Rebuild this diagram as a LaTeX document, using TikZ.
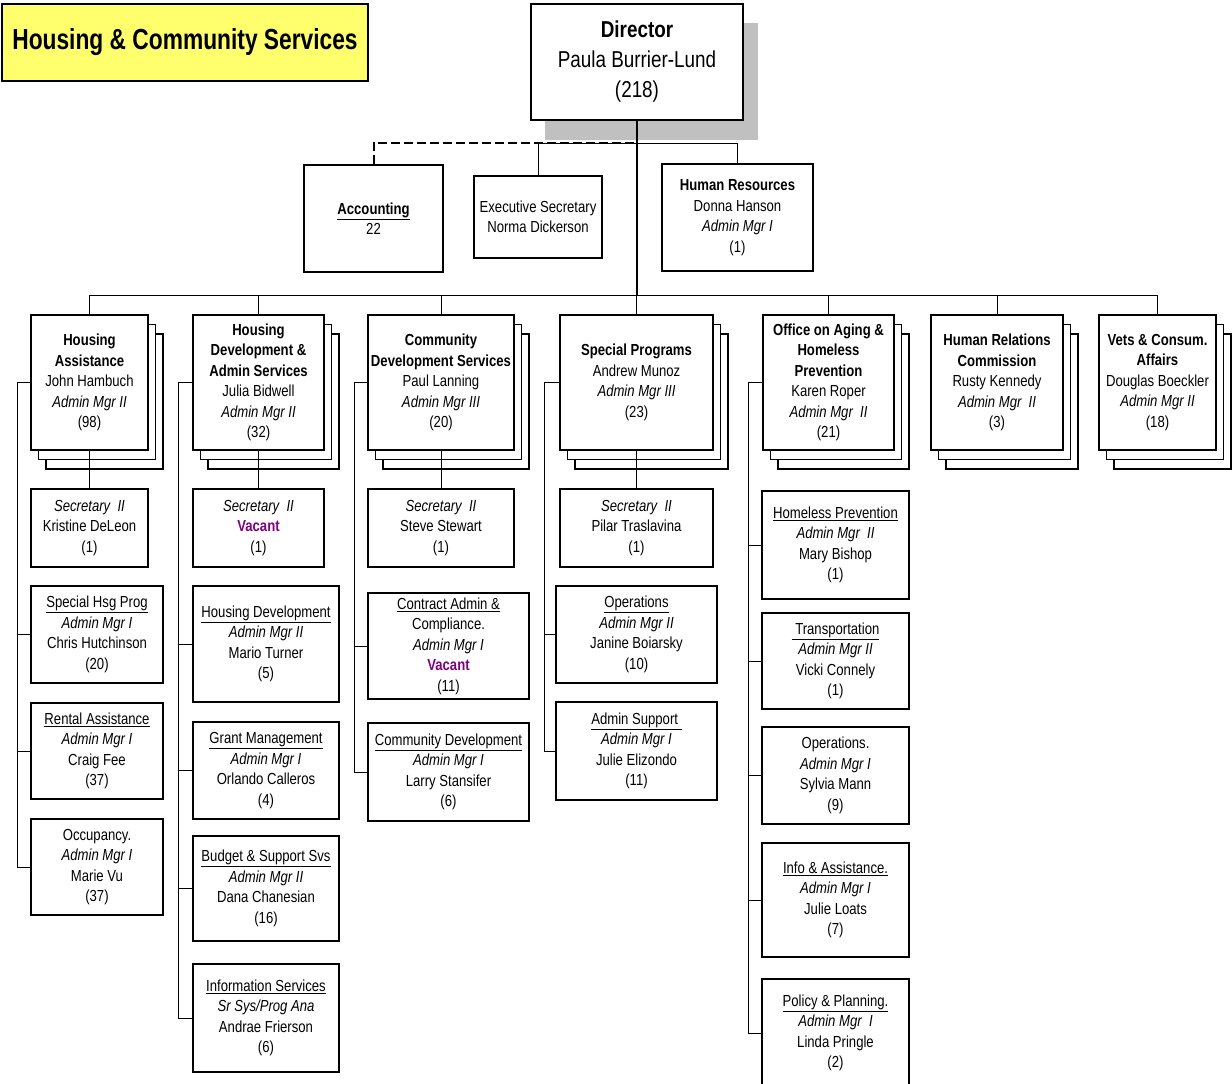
\documentclass[tikz,border=0pt]{standalone}
\usepackage{fontspec}
\setmainfont[FakeStretch=0.82]{Liberation Sans}
\newfontfamily\titlefont[FakeStretch=0.785]{Liberation Sans}
\definecolor{vac}{RGB}{128,0,128}
\definecolor{ttl}{RGB}{255,255,110}
\definecolor{shd}{RGB}{192,192,192}
\newcommand{\bodyfont}{\fontsize{16}{20.5}\selectfont}
\newcommand{\vacant}{\textcolor{vac}{\textbf{Vacant}}}
\newcommand{\orgbox}[6]{\node[bx, minimum width={#4-#2}, minimum height={#5-#3}] (#1) at ({(#2+#4)/2},{(#3+#5)/2}) {#6};}
\newcommand{\deptbox}[6]{%
  \draw[stk] ({#2+15},{#3+19}) rectangle ({#4+15},{#5+19});
  \draw[stk] ({#2+7.5},{#3+9.5}) rectangle ({#4+7.5},{#5+9.5});
  \orgbox{#1}{#2}{#3}{#4}{#5}{#6}}
\begin{document}
\begin{tikzpicture}[x=1pt,y=-1pt,
  bx/.style={draw, line width=1.1pt, fill=white, inner sep=0pt, align=center, font=\bodyfont},
  stk/.style={draw, line width=1.1pt, fill=white},
  conn/.style={line width=1pt},
  trunk/.style={line width=2pt},
  staffline/.style={line width=2pt, dash pattern=on 9pt off 4pt}]
\useasboundingbox (0,0) rectangle (1232,1084);
\clip (0,0) rectangle (1232,1084);
\fill[white] (0,0) rectangle (1232,1084);

% title
\node[draw, line width=1.1pt, fill=ttl, inner sep=0pt, minimum width=366, minimum height=77] (title) at (185,42.5)
  {\titlefont\fontsize{29}{30}\selectfont\bfseries Housing \& Community Services};

% director
\fill[shd] (545,23) rectangle (758,140);
\node[bx, minimum width=212, minimum height=116, font=\fontsize{23}{30}\selectfont] (dir) at (637,62)
  {\textbf{Director}\\Paula Burrier-Lund\\(218)};

% staff
\orgbox{acc}{304}{165}{443}{272}{\textbf{\underline{Accounting}}\\22}
\orgbox{es}{474}{176}{602}{258}{\fontsize{16}{19}\selectfont Executive Secretary\\Norma Dickerson}
\orgbox{hr}{662}{164}{813}{271}{\textbf{Human Resources}\\Donna Hanson\\\textit{Admin Mgr I}\\(1)}

% departments
\deptbox{ha}{31}{315}{148}{450}{\textbf{Housing}\\\textbf{Assistance}\\John Hambuch\\\textit{Admin Mgr II}\\(98)}
\deptbox{hd}{193}{315}{324}{450}{\textbf{Housing}\\\textbf{Development \&}\\\textbf{Admin Services}\\Julia Bidwell\\\textit{Admin Mgr II}\\(32)}
\deptbox{cds}{368}{315}{514}{450}{\textbf{Community}\\\textbf{Development Services}\\Paul Lanning\\\textit{Admin Mgr III}\\(20)}
\deptbox{sp}{560}{315}{713}{450}{\textbf{Special Programs}\\Andrew Munoz\\\textit{Admin Mgr III}\\(23)}
\deptbox{oa}{763}{315}{894}{450}{\textbf{Office on Aging \&}\\\textbf{Homeless}\\\textbf{Prevention}\\Karen Roper\\\textit{Admin Mgr~~II}\\(21)}
\deptbox{hrc}{931}{315}{1063}{450}{\textbf{Human Relations}\\\textbf{Commission}\\Rusty Kennedy\\\textit{Admin Mgr~~II}\\(3)}
\deptbox{vets}{1099}{315}{1216}{450}{\textbf{Vets \& Consum.}\\\textbf{Affairs}\\Douglas Boeckler\\\textit{Admin Mgr II}\\(18)}

% secretaries
\orgbox{haS}{31}{489}{148}{567}{\fontsize{16}{21}\selectfont\textit{Secretary~~II}\\Kristine DeLeon\\(1)}
\orgbox{hdS}{193}{489}{324}{567}{\fontsize{16}{21}\selectfont\textit{Secretary~~II}\\\vacant\\(1)}
\orgbox{cdsS}{368}{489}{514}{567}{\fontsize{16}{21}\selectfont\textit{Secretary~~II}\\Steve Stewart\\(1)}
\orgbox{spS}{560}{489}{713}{567}{\fontsize{16}{21}\selectfont\textit{Secretary~~II}\\Pilar Traslavina\\(1)}

% housing assistance units
\orgbox{shp}{31}{586}{163}{683}{\underline{Special Hsg Prog}\\\textit{Admin Mgr I}\\Chris Hutchinson\\(20)}
\orgbox{rent}{31}{703}{163}{799}{\underline{Rental Assistance}\\\textit{Admin Mgr I}\\Craig Fee\\(37)}
\orgbox{occ}{31}{819}{163}{915}{Occupancy.\\\textit{Admin Mgr I}\\Marie Vu\\(37)}

% housing development units
\orgbox{hdev}{193}{586}{339}{702}{\underline{Housing Development}\\\textit{Admin Mgr II}\\Mario Turner\\(5)}
\orgbox{grant}{193}{722}{339}{819}{\underline{Grant Management}\\\textit{Admin Mgr I}\\Orlando Calleros\\(4)}
\orgbox{budget}{193}{836}{339}{941}{\underline{Budget \& Support Svs}\\\textit{Admin Mgr II}\\Dana Chanesian\\(16)}
\orgbox{info}{193}{964}{339}{1072}{\underline{Information Services}\\\textit{Sr Sys/Prog Ana}\\Andrae Frierson\\(6)}

% community development units
\orgbox{contract}{368}{593}{529}{699}{\underline{Contract Admin \&}\\Compliance.\\\textit{Admin Mgr I}\\\vacant\\(11)}
\orgbox{cdev}{368}{723}{529}{821}{\underline{Community Development}\\\textit{Admin Mgr I}\\Larry Stansifer\\(6)}

% special programs units
\orgbox{spops}{556}{586}{717}{683}{\underline{Operations}\\\textit{Admin Mgr II}\\Janine Boiarsky\\(10)}
\orgbox{adsup}{556}{702}{717}{800}{\underline{Admin Support~}\\\textit{Admin Mgr I}\\Julie Elizondo\\(11)}

% aging units
\orgbox{hless}{762}{491}{909}{599}{\underline{Homeless Prevention}\\\textit{Admin Mgr~~II}\\Mary Bishop\\(1)}
\orgbox{trans}{762}{613}{909}{709}{\underline{~Transportation}\\\textit{Admin Mgr II}\\Vicki Connely\\(1)}
\orgbox{oaops}{762}{727}{909}{824}{Operations.\\\textit{Admin Mgr I}\\Sylvia Mann\\(9)}
\orgbox{ia}{762}{843}{909}{957}{\underline{Info \& Assistance.}\\\textit{Admin Mgr I}\\Julie Loats\\(7)}
\orgbox{pp}{762}{979}{909}{1087}{\underline{Policy \& Planning.}\\\textit{Admin Mgr~~I}\\Linda Pringle\\(2)}

% connectors: staff
\coordinate (staff) at (636,143);
\coordinate (bus) at (636,295);
\draw[conn] (es.north) |- (hr.north |- staff) -- (hr.north);
\draw[staffline] (acc.north) |- (staff);
\draw[trunk] (dir.south) -- (dir.south |- bus);

% bus
\draw[conn] (ha.north |- bus) -- (vets.north |- bus);
\foreach \n in {ha,hd,cds,sp,oa,hrc,vets} \draw[conn] (\n.north) -- (\n.north |- bus);

% secretaries
\foreach \n in {ha,hd,cds,sp} \draw[conn] (\n.south) -- (\n S.north);

% brackets
\coordinate (haB) at (17,0);
\draw[conn] (ha.west) -- (ha.west -| haB) |- (occ.west);
\foreach \n in {shp,rent} \draw[conn] (\n.west) -- (\n.west -| haB);

\coordinate (hdB) at (178,0);
\draw[conn] (hd.west) -- (hd.west -| hdB) |- (info.west);
\foreach \n in {hdev,grant,budget} \draw[conn] (\n.west) -- (\n.west -| hdB);

\coordinate (cdsB) at (354,0);
\draw[conn] (cds.west) -- (cds.west -| cdsB) |- (cdev.west);
\draw[conn] (contract.west) -- (contract.west -| cdsB);

\coordinate (spB) at (544,0);
\draw[conn] (sp.west) -- (sp.west -| spB) |- (adsup.west);
\draw[conn] (spops.west) -- (spops.west -| spB);

\coordinate (oaB) at (748,0);
\draw[conn] (oa.west) -- (oa.west -| oaB) |- (pp.west);
\foreach \n in {hless,trans,oaops,ia} \draw[conn] (\n.west) -- (\n.west -| oaB);
\end{tikzpicture}
\end{document}
